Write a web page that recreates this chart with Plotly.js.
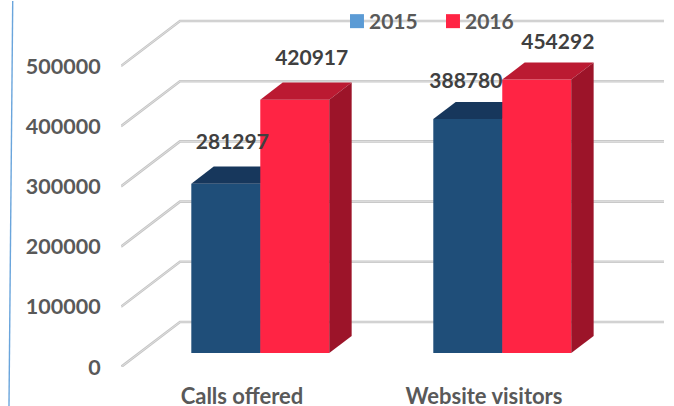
<!DOCTYPE html>
<html>
<head>
<meta charset="utf-8">
<script src="https://cdn.plot.ly/plotly-3.0.1.min.js"></script>
<style>html,body{margin:0;padding:0;background:#fff}#chart{width:674px;height:406px}</style>
</head>
<body>
<div id="chart"></div>
<script>
const categories = ['Calls offered', 'Website visitors'];
const series2015 = [281297, 388780];
const series2016 = [420917, 454292];
const seriesNames = ['2015', '2016'];
const yTicks = [0, 100000, 200000, 300000, 400000, 500000];

// Oblique projection of the 3D chart: the whole floor depth as a shift in axis units
const DEPTH_X = 0.2438, DEPTH_Y = 74750;
const BAR_NEAR = 0.31, BAR_FAR = 0.69, BAR_W = 0.285;
const X_RANGE = [-0.5, 1.744], Y_RANGE = [0, 608000];

const FONT = 'Lato, Carlito, Calibri, sans-serif';
const GREY = '#595959';

const colors = [
  {front: '#1f4e79', top: '#17375c', side: '#163a5a', legend: '#5b9bd5'},
  {front: '#ff2444', top: '#bb1a32', side: '#9c1429', legend: '#ff2444'}
];

function project(x, v, depth) {
  return [x + depth * DEPTH_X, v + depth * DEPTH_Y];
}
function polygon(points, color, ax) {
  return {
    type: 'scatter', mode: 'lines', fill: 'toself', fillcolor: color,
    x: points.map(p => p[0]), y: points.map(p => p[1]),
    line: {width: 0, color: color}, showlegend: false, hoverinfo: 'skip',
    xaxis: ax[0], yaxis: ax[1]
  };
}
function seriesTraces(values, offset, c, ax) {
  const traces = [];
  const xs = categories.map((_, i) => i + (offset + 0.5) * BAR_W);
  const nearBase = project(0, 0, BAR_NEAR);
  traces.push({
    type: 'bar', x: xs.map(x => x + nearBase[0]), y: values,
    base: values.map(() => nearBase[1]), width: BAR_W,
    marker: {color: c.front, line: {width: 0}}, showlegend: false,
    hoverinfo: 'skip', xaxis: ax[0], yaxis: ax[1]
  });
  values.forEach((v, i) => {
    const l = xs[i] - BAR_W / 2, r = xs[i] + BAR_W / 2;
    traces.push(polygon([
      project(l, v, BAR_NEAR), project(r, v, BAR_NEAR),
      project(r, v, BAR_FAR), project(l, v, BAR_FAR), project(l, v, BAR_NEAR)
    ], c.top, ax));
    traces.push(polygon([
      project(r, 0, BAR_NEAR), project(r, v, BAR_NEAR),
      project(r, v, BAR_FAR), project(r, 0, BAR_FAR), project(r, 0, BAR_NEAR)
    ], c.side, ax));
  });
  return traces;
}

// Walls: gridlines run up the side wall, then along the back wall
const gx = [], gy = [];
yTicks.forEach(v => {
  const a = project(X_RANGE[0], v, 0), b = project(X_RANGE[0], v, 1);
  gx.push(a[0], b[0], X_RANGE[1], null);
  gy.push(a[1], b[1], b[1], null);
});
const gridOuter = {type: 'scatter', mode: 'lines', x: gx, y: gy, cliponaxis: false,
  line: {color: '#c6c6c6', width: 2.6}, showlegend: false, hoverinfo: 'skip'};
const gridInner = {type: 'scatter', mode: 'lines', x: gx, y: gy, cliponaxis: false,
  line: {color: '#dedede', width: 1}, showlegend: false, hoverinfo: 'skip'};

// Legend entries
const legendTraces = seriesNames.map((n, i) => ({
  type: 'scatter', mode: 'markers', name: n, x: [null], y: [null],
  marker: {symbol: 'square', size: 14, color: colors[i].legend}, hoverinfo: 'skip'
}));

// Data labels, nudged per label as in the source chart
const labelValues = [series2015[0], series2016[0], series2015[1], series2016[1]];
const labelBars = [[0, -0.5], [0, 0.5], [1, -0.5], [1, 0.5]];
const labelNudgeX = [0.027, 0.07, -0.008, 0.087];
const labelNudgeY = [66800, 66000, 61000, 60000];
const labels = {
  type: 'scatter', mode: 'text', cliponaxis: false,
  x: labelBars.map((b, i) => project(b[0] + b[1] * BAR_W, 0, BAR_NEAR)[0] + labelNudgeX[i]),
  y: labelValues.map((v, i) => project(0, v, BAR_NEAR)[1] + labelNudgeY[i]),
  text: labelValues.map(String), textposition: 'middle center',
  textfont: {family: FONT, size: 21, weight: 700, color: '#404040'},
  showlegend: false, hoverinfo: 'skip', xaxis: 'x3', yaxis: 'y3'
};

const data = [
  gridOuter, gridInner, ...legendTraces,
  ...seriesTraces(series2015, -1, colors[0], ['x2', 'y2']),
  ...seriesTraces(series2016, 0, colors[1], ['x3', 'y3']),
  labels
];

const hiddenX = {range: X_RANGE, overlaying: 'x', visible: false, fixedrange: true};
const hiddenY = {range: Y_RANGE, overlaying: 'y', visible: false, fixedrange: true};

const layout = {
  width: 674, height: 406,
  margin: {l: 121, r: 10, t: 1, b: 39, pad: 0},
  paper_bgcolor: '#fff', plot_bgcolor: 'rgba(0,0,0,0)',
  showlegend: true,
  barmode: 'overlay',
  font: {family: FONT, color: GREY, size: 21, weight: 700},
  xaxis: {
    range: X_RANGE, tickmode: 'array', tickvals: categories.map((_, i) => i), ticktext: categories,
    showgrid: false, zeroline: false, showline: false,
    ticks: 'outside', ticklen: 10, tickcolor: 'rgba(0,0,0,0)',
    tickfont: {family: FONT, size: 22, weight: 700, color: GREY}, fixedrange: true
  },
  yaxis: {
    range: Y_RANGE, tickmode: 'array', tickvals: yTicks, ticktext: yTicks.map(String),
    showgrid: false, zeroline: false, showline: false,
    ticks: 'outside', ticklen: 15, tickcolor: 'rgba(0,0,0,0)',
    tickfont: {family: FONT, size: 21.5, weight: 700, color: GREY}, fixedrange: true
  },
  xaxis2: hiddenX, yaxis2: hiddenY,
  xaxis3: hiddenX, yaxis3: hiddenY,
  legend: {
    orientation: 'h', x: 0.383, y: 1.0, xanchor: 'left', yanchor: 'top',
    bgcolor: 'rgba(0,0,0,0)', borderwidth: 0,
    font: {family: FONT, size: 21, weight: 700, color: GREY},
    entrywidth: 51, entrywidthmode: 'pixels', itemwidth: 30, traceorder: 'normal'
  },
  shapes: [{
    type: 'line', xref: 'paper', yref: 'paper', layer: 'above',
    x0: -0.1994, y0: 1.0, x1: -0.2063, y1: -0.1066,
    line: {color: '#6aa5dc', width: 1.4}
  }]
};

Plotly.newPlot('chart', data, layout, {displayModeBar: false, staticPlot: true}).then(() => {
  // The reference keeps its legend swatches close to their labels
  document.querySelectorAll('#chart .legend .legendsymbols').forEach(g => g.setAttribute('transform', 'translate(8,0)'));
});
</script>
</body>
</html>
